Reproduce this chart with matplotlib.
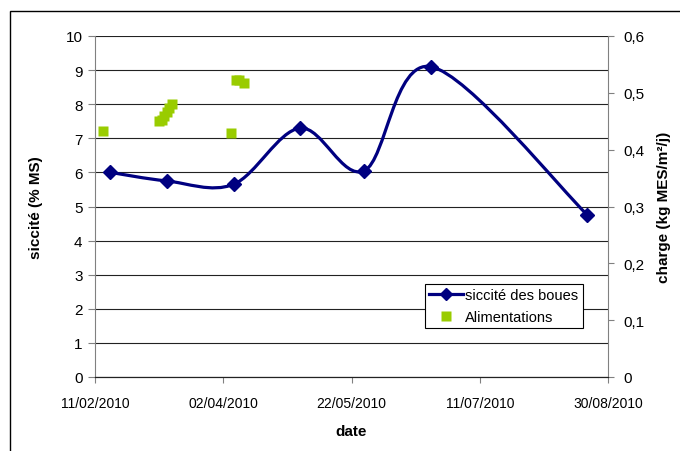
import datetime as dt
import numpy as np
import matplotlib
matplotlib.use("Agg")
import matplotlib.pyplot as plt
import matplotlib.dates as mdates
from matplotlib.path import Path
from matplotlib.patches import PathPatch, Rectangle
from matplotlib.lines import Line2D

plt.rcParams["font.family"] = ["Liberation Sans", "DejaVu Sans"]

# siccité des boues (% MS)
siccite_dates = ["2010-02-17", "2010-03-11", "2010-04-06", "2010-05-02",
                 "2010-05-27", "2010-06-22", "2010-08-22"]
siccite_values = [6.0, 5.75, 5.65, 7.3, 6.05, 9.1, 4.75]

# alimentations, charge (kg MES/m²/j)
alim_dates = ["2010-02-14", "2010-03-08", "2010-03-09", "2010-03-10",
              "2010-03-11", "2010-03-12", "2010-03-13", "2010-04-05",
              "2010-04-07", "2010-04-08", "2010-04-10"]
alim_values = [0.433, 0.450, 0.452, 0.459, 0.466, 0.473, 0.480, 0.430,
               0.523, 0.523, 0.518]

xtick_dates = ["2010-02-11", "2010-04-02", "2010-05-22", "2010-07-11", "2010-08-30"]

NAVY = "#000080"
GREEN = "#99CC00"


def to_num(dates):
    return mdates.date2num([dt.datetime.strptime(d, "%Y-%m-%d") for d in dates])


def smooth_path(x, y):
    # cubic bezier through the points, excel-style smoothed line
    pts = np.column_stack([x, y])
    n = len(pts)
    verts = [pts[0]]
    codes = [Path.MOVETO]
    for i in range(n - 1):
        p_prev = pts[i - 1] if i > 0 else pts[i]
        p_next2 = pts[i + 2] if i + 2 < n else pts[i + 1]
        c1 = pts[i] + (pts[i + 1] - p_prev) / 6.0
        c2 = pts[i + 1] - (p_next2 - pts[i]) / 6.0
        verts += [c1, c2, pts[i + 1]]
        codes += [Path.CURVE4] * 3
    return Path(verts, codes)


fig = plt.figure(figsize=(6.8, 4.52), dpi=100)
ax = fig.add_axes([95 / 680, 1 - 378 / 452, (608 - 95) / 680, (378 - 37) / 452])
ax2 = ax.twinx()

# outer frame of the chart area
fig.patches.append(Rectangle((10 / 680, -0.2), 1.2, 1.2 - 12 / 452, transform=fig.transFigure,
                             fill=False, ec="black", lw=1.0))

sx = to_num(siccite_dates)
ax.add_patch(PathPatch(smooth_path(sx, siccite_values), fc="none", ec=NAVY, lw=2.3,
                       capstyle="round", joinstyle="round", zorder=3))
ax.plot(sx, siccite_values, ls="none", marker="D", ms=7.5, color=NAVY, zorder=4)

ax2.plot(to_num(alim_dates), alim_values, ls="none", marker="s", ms=7.8, color=GREEN,
         mec="none", zorder=3)

xmin, xmax = to_num(["2010-02-11", "2010-08-30"])
ax.set_xlim(xmin, xmax)
ax.set_ylim(0, 10)
ax2.set_ylim(0, 0.6)

ax.set_xticks(to_num(xtick_dates))
ax.xaxis.set_major_formatter(mdates.DateFormatter("%d/%m/%Y"))
ax.set_yticks(range(0, 11))
ax2.set_yticks(np.arange(0, 0.61, 0.1))
ax2.set_yticklabels([f"{v:.1f}".replace(".", ",") if v > 0 else "0"
                     for v in np.arange(0, 0.61, 0.1)])

ax.grid(axis="y", color="#222222", lw=0.8)
ax.set_axisbelow(True)

for a in (ax, ax2):
    a.spines["top"].set_visible(False)
    a.spines["left"].set_color("#808080")
    a.spines["right"].set_color("#808080")
    a.spines["bottom"].set_color("#222222")
ax2.spines["left"].set_visible(False)
ax.spines["right"].set_visible(False)

ax.tick_params(axis="y", length=5, pad=4, labelsize=11, color="#808080")
ax2.tick_params(axis="y", length=4, pad=7, labelsize=11, color="#808080")
ax.tick_params(axis="x", length=4, pad=10, labelsize=10, color="#808080")

ax.set_ylabel("siccité (% MS)", fontsize=11, fontweight="bold", labelpad=16)
ax2.set_ylabel("charge (kg MES/m²/j)", fontsize=11, fontweight="bold", labelpad=9)
ax.set_xlabel("date", fontsize=11, fontweight="bold", labelpad=10)

handles = [Line2D([], [], color=NAVY, lw=2.3, marker="D", ms=6),
           Line2D([], [], ls="none", marker="s", ms=7, color=GREEN, mec="none")]
leg = ax2.legend(handles, ["siccité des boues", "Alimentations"], loc="upper left",
                 bbox_to_anchor=((425 - 95) / 513, (378 - 285) / 341), fontsize=10.5,
                 frameon=True, fancybox=False, edgecolor="black", framealpha=1,
                 borderpad=0.3, labelspacing=0.5, handlelength=2.3, handletextpad=0.15,
                 borderaxespad=0.0, numpoints=1)
leg.get_frame().set_linewidth(0.8)

fig.savefig("out.png", dpi=100)
